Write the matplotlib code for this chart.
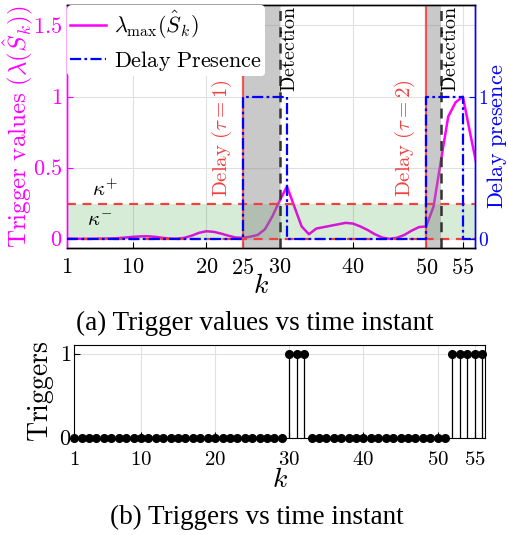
import numpy as np
import matplotlib
matplotlib.use("Agg")
import matplotlib.pyplot as plt

plt.rcParams['mathtext.fontset'] = 'cm'
plt.rcParams['font.family'] = ['Liberation Serif', 'DejaVu Serif']

# ---------------- data ----------------
k_vals = list(range(1, 58))
lambda_max = [0.005, 0.004, 0.003, 0.003, 0.004, 0.005, 0.006, 0.008, 0.012, 0.017,
              0.020, 0.021, 0.017, 0.010, 0.005, 0.004, 0.010, 0.025, 0.045, 0.056,
              0.052, 0.040, 0.025, 0.012, 0.010, 0.018, 0.030, 0.070, 0.160, 0.270,
              0.370, 0.230, 0.090, 0.035, 0.075, 0.085, 0.095, 0.105, 0.115, 0.110,
              0.090, 0.065, 0.035, 0.012, 0.003, 0.010, 0.030, 0.060, 0.085, 0.090,
              0.230, 0.550, 0.860, 0.960, 1.000, 0.740, 0.490]
delay_presence = [0]*24 + [1]*6 + [0]*19 + [1]*5 + [0]*3
kappa_plus = 0.25
kappa_minus = 0.0
delay_starts = [25, 50]
detections = [30, 52]
delay_labels = [r'$\mathrm{Delay}\ (\tau=1)$', r'$\mathrm{Delay}\ (\tau=2)$']

k_trig = list(range(1, 57))
triggers = [0]*29 + [1]*3 + [0]*19 + [1]*5

top_xticks = [1, 10, 20, 25, 30, 40, 50, 55]
top_yticks = [0, 0.5, 1, 1.5]
top_yticklabels = ['$0$', '$0.5$', '$1$', '$1.5$']
right_yticks = [0, 1]
bot_xticks = [1, 10, 20, 30, 40, 50, 55]
bot_yticks = [0, 1]

MAG = (1, 0, 1)
BLUE = (0, 0, 1)
RED = (0.95, 0.25, 0.25)

fig = plt.figure(figsize=(5.08, 5.35), dpi=100)

# ---------------- top axes ----------------
ax = fig.add_axes([0.132, 0.536, 0.803, 0.454])
xmin, xmax = 1, 56.65
ax.set_xlim(xmin, xmax)
ax.set_ylim(-0.063, 1.64)

ax.grid(True, color=(0.88, 0.88, 0.88), linewidth=0.8, zorder=0)
ax.set_axisbelow(True)

l1, = ax.plot(k_vals, lambda_max, color=MAG, linewidth=1.8, zorder=3,
              label=r'$\lambda_{\max}(\hat{S}_k)$')
# green band (drawn over line)
ax.axhspan(kappa_minus, kappa_plus, color=(0.0, 0.55, 0.0), alpha=0.16,
           linewidth=0, zorder=4)
# gray regions
for s, d in zip(delay_starts, detections):
    ax.axvspan(s, d, color=(0.5, 0.5, 0.5), alpha=0.42, linewidth=0, zorder=4)
# threshold lines
for yv in [kappa_plus, kappa_minus]:
    ax.axhline(yv, color=RED, linestyle=(0, (4, 3)), linewidth=1.6, zorder=5)
# delay start lines
for s in delay_starts:
    ax.axvline(s, color=RED, linewidth=1.6, alpha=0.85, zorder=5)
# detection lines
for d in detections:
    ax.axvline(d, color=(0.2, 0.2, 0.2), linestyle=(0, (4, 2.5)), linewidth=1.8, zorder=5)

ax2 = ax.twinx()
ax2.set_ylim(ax.get_ylim())
l2, = ax2.plot(k_vals, delay_presence, color=BLUE, linewidth=1.6,
               linestyle=(0, (5, 1.5, 1.2, 1.5)), drawstyle='steps-post', zorder=6,
               label=r'$\mathrm{Delay\ Presence}$')
ax2.set_xlim(xmin, xmax)

# texts
for s, lab in zip(delay_starts, delay_labels):
    ax.text(s - 2.9, 0.71, lab, color=RED, rotation=90, ha='center', va='center',
            fontsize=15, zorder=7)
for d in detections:
    ax.text(d + 1.45, 1.635, r'$\mathrm{Detection}$', color='black', rotation=90,
            ha='center', va='top', fontsize=14.5, zorder=7)
ax.text(6.2, 0.34, r'$\kappa^{+}$', fontsize=15, ha='center', va='center', zorder=7)
ax.text(5.5, 0.125, r'$\kappa^{-}$', fontsize=15, ha='center', va='center', zorder=7)

ax.set_xticks(top_xticks)
ax.set_xticklabels(['$%d$' % t for t in top_xticks])
ax.set_yticks(top_yticks)
ax.set_yticklabels(top_yticklabels)
ax2.set_yticks(right_yticks)
ax2.set_yticklabels(['$%d$' % t for t in right_yticks])

ax.tick_params(axis='both', direction='in', labelsize=16, length=4)
ax.tick_params(axis='y', colors=MAG, labelcolor=MAG)
ax.tick_params(axis='x', colors='black', pad=8)
ax2.tick_params(axis='y', direction='in', colors=BLUE, labelcolor=BLUE, labelsize=14,
                length=4, pad=2)
ax2.spines['left'].set_color(MAG)
ax2.spines['right'].set_color(BLUE)
ax.spines['left'].set_color(MAG)
ax.spines['right'].set_color(BLUE)
for sp in ['left', 'right', 'top', 'bottom']:
    ax.spines[sp].set_linewidth(1.0)
    ax2.spines[sp].set_linewidth(1.0)

ax.set_ylabel(r'$\mathrm{Trigger\ values}\ (\lambda(\hat{S}_k))$', color=MAG, fontsize=18, labelpad=-2)
fig.text(497 / 508, 1 - 136 / 535, r'$\mathrm{Delay\ presence}$', color=BLUE, fontsize=16,
         rotation=90, ha='center', va='center')
ax.set_xlabel(r'$k$', fontsize=20, labelpad=-4, x=0.475)

leg = ax2.legend(handles=[l1, l2], loc='upper left', fontsize=16, frameon=True,
                 framealpha=1.0, edgecolor='none', facecolor='white',
                 borderaxespad=0.0, borderpad=0.15, handlelength=1.6, handletextpad=0.35,
                 labelspacing=0.35)
leg.set_zorder(10)

fig.text(0.502, 0.396, '(a) Trigger values vs time instant', ha='center', va='center', fontsize=19.5)

# ---------------- bottom axes ----------------
bx = fig.add_axes([0.146, 0.181, 0.809, 0.174])
bx.set_xlim(1, 56.4)
bx.set_ylim(0, 1.1)
bx.grid(True, color=(0.88, 0.88, 0.88), linewidth=0.8)
bx.set_axisbelow(True)
markerline, stemlines, baseline = bx.stem(k_trig, triggers, linefmt='k-', markerfmt='ko', basefmt=' ')
markerline.set_markersize(5.5)
markerline.set_clip_on(False)
stemlines.set_linewidth(0.9)
bx.set_xticks(bot_xticks)
bx.set_xticklabels(['$%d$' % t for t in bot_xticks])
bx.set_yticks(bot_yticks)
bx.set_yticklabels(['$%d$' % t for t in bot_yticks])
bx.tick_params(axis='both', direction='in', labelsize=15, length=4)
bx.tick_params(axis='x', pad=9)
bx.tick_params(axis='y', pad=2, labelsize=16)
bx.set_ylabel(r'$\mathrm{Triggers}$', fontsize=20, labelpad=2)
bx.set_xlabel(r'$k$', fontsize=20, labelpad=-1)

fig.text(0.506, 0.032, '(b) Triggers vs time instant', ha='center', va='center', fontsize=19.5)

fig.savefig('out.png', dpi=100)
